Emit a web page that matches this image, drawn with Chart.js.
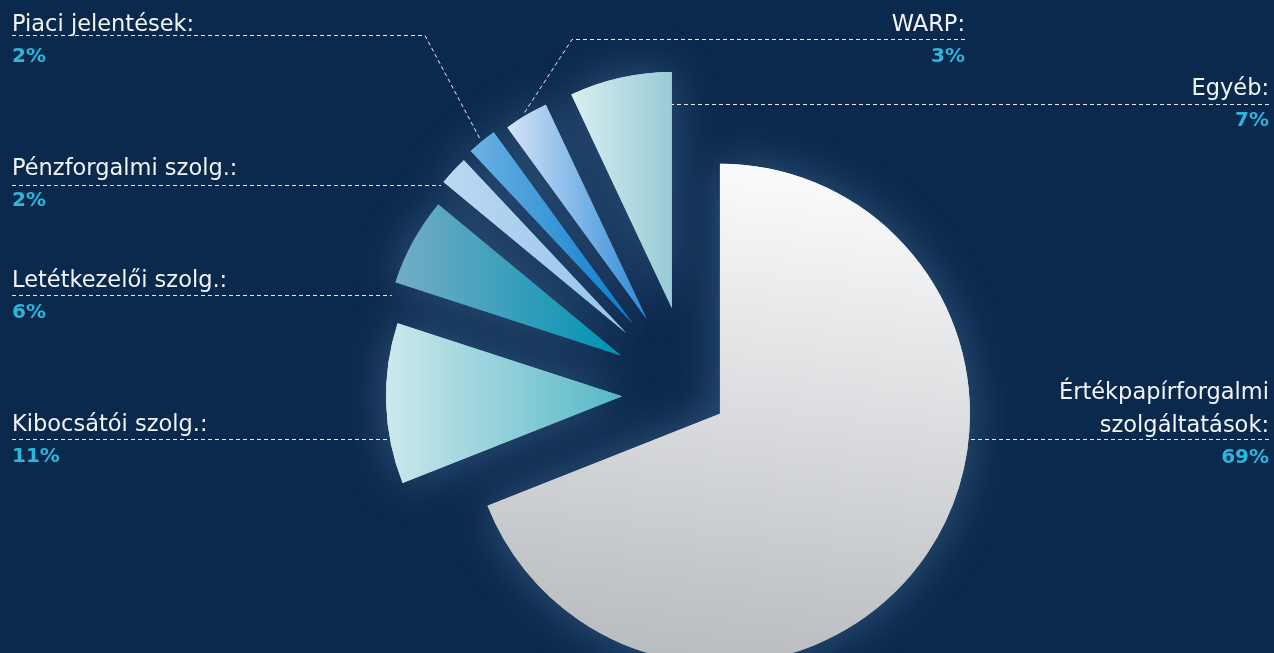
<!DOCTYPE html>
<html lang="hu">
<head>
<meta charset="utf-8">
<title>Árbevétel megoszlása</title>
<script src="https://cdn.jsdelivr.net/npm/chart.js@4.4.1/dist/chart.umd.min.js"></script>
<style>
  html, body { margin: 0; padding: 0; background: #0b294c; overflow: hidden; }
  #wrap { position: relative; width: 1274px; height: 653px; }
</style>
</head>
<body>
<div id="wrap"><canvas id="pie" width="1274" height="653"></canvas></div>
<script>
// data (clockwise from 12 o'clock)
const categories = ['Értékpapírforgalmi szolgáltatások', 'Kibocsátói szolg.', 'Letétkezelői szolg.', 'Pénzforgalmi szolg.', 'Piaci jelentések', 'WARP', 'Egyéb'];
const shares = [69, 11, 6, 2, 2, 3, 7];
const labelLines = [['Értékpapírforgalmi', 'szolgáltatások:'], ['Kibocsátói szolg.:'], ['Letétkezelői szolg.:'], ['Pénzforgalmi szolg.:'], ['Piaci jelentések:'], ['WARP:'], ['Egyéb:']];

// look of the slices
const explode = [35, 69, 80, 89, 91, 87, 88];
const sliceRadius = [250, 236, 237, 237, 237, 237, 236];
const sliceColors = [
    ['#f8f9fa', '#b6b9bd'],
    ['#cce8ec', '#56b8c6'],
    ['#74acc6', '#0093b2'],
    ['#bcd8f2', '#95c4ec'],
    ['#6cb2e4', '#0a7ccc'],
    ['#d4e4f8', '#2d8ad6'],
    ['#d8eef1', '#98ccd6']
];

// callouts: side of the label, text x, text baseline, dashed line y, where the line meets the slice
const callouts = [
    { side: 'right', x: 1269, base: 432, lineY: 439, hit: 'arc' },
    { side: 'left', x: 12, base: 431, lineY: 439, hit: 'arc' },
    { side: 'left', x: 12, base: 287, lineY: 295, hit: 'arc' },
    { side: 'left', x: 12, base: 175, lineY: 185, hit: 'arc' },
    { side: 'left', x: 12, base: 31, lineY: 35, hit: 'mid', kinkX: 425 },
    { side: 'right', x: 965, base: 31, lineY: 39, hit: 'mid', kinkX: 572 },
    { side: 'right', x: 1269, base: 95, lineY: 104, hit: 'end' }
];

const labelFont = '22.5px "DejaVu Sans"';
const pctFont = 'bold 20px "DejaVu Sans"';

function sliceBox(arc) {
    let x0 = arc.x, x1 = arc.x, y0 = arc.y, y1 = arc.y;
    const steps = 24;
    for (let k = 0; k <= steps; k++) {
        const a = arc.startAngle + (arc.endAngle - arc.startAngle) * k / steps;
        const px = arc.x + Math.cos(a) * arc.outerRadius;
        const py = arc.y + Math.sin(a) * arc.outerRadius;
        x0 = Math.min(x0, px); x1 = Math.max(x1, px);
        y0 = Math.min(y0, py); y1 = Math.max(y1, py);
    }
    return { x0, x1, y0, y1 };
}

function anchorPoint(arc, c) {
    const r = arc.outerRadius;
    if (c.hit === 'mid') {
        const mid = (arc.startAngle + arc.endAngle) / 2;
        return { x: arc.x + Math.cos(mid) * (r + 3), y: arc.y + Math.sin(mid) * (r + 3) };
    }
    if (c.hit === 'end') {
        const a = arc.endAngle;
        return { x: arc.x + Math.cos(a) / Math.sin(a) * (c.lineY - arc.y), y: c.lineY };
    }
    const dy = c.lineY - arc.y;
    const dx = Math.sqrt(Math.max(r * r - dy * dy, 0));
    return { x: c.side === 'left' ? arc.x - dx : arc.x + dx, y: c.lineY };
}

const slicePlugin = {
    id: 'slicePlugin',
    afterDatasetsUpdate(chart) {
        chart.getDatasetMeta(0).data.forEach((arc, i) => {
            const mid = (arc.startAngle + arc.endAngle) / 2;
            arc.x += Math.cos(mid) * explode[i];
            arc.y += Math.sin(mid) * explode[i];
            arc.outerRadius = sliceRadius[i];
        });
    },
    beforeDatasetsDraw(chart) {
        const ctx = chart.ctx;
        const arcs = chart.getDatasetMeta(0).data;
        arcs.forEach((arc, i) => {
            const b = sliceBox(arc);
            const g = i === 0
                ? ctx.createLinearGradient(b.x0 + 120, b.y0, b.x0 + 60, b.y1)
                : ctx.createLinearGradient(b.x0, 0, b.x1, 0);
            g.addColorStop(0, sliceColors[i][0]);
            g.addColorStop(1, sliceColors[i][1]);
            arc.options = Object.assign({}, arc.options, { backgroundColor: g, borderWidth: 0 });
        });
        // soft light halo behind the slices
        ctx.save();
        ctx.shadowColor = 'rgba(120, 165, 215, 0.36)';
        ctx.shadowBlur = 45;
        arcs.forEach(arc => arc.draw(ctx));
        ctx.restore();
    },
    afterDraw(chart) {
        const ctx = chart.ctx;
        const arcs = chart.getDatasetMeta(0).data;
        ctx.save();
        arcs.forEach((arc, i) => {
            const c = callouts[i];
            const p = anchorPoint(arc, c);
            const y = Math.round(c.lineY) + 0.5;

            ctx.strokeStyle = 'rgba(255,255,255,0.9)';
            ctx.lineWidth = 1;
            ctx.setLineDash([4, 3]);
            ctx.beginPath();
            ctx.moveTo(c.x, y);
            if (c.kinkX !== undefined) {
                ctx.lineTo(c.kinkX, y);
                ctx.lineTo(p.x, p.y);
            } else {
                ctx.lineTo(p.x, y);
            }
            ctx.stroke();
            ctx.setLineDash([]);

            ctx.textAlign = c.side === 'left' ? 'left' : 'right';
            ctx.textBaseline = 'alphabetic';
            ctx.fillStyle = '#f2f5f8';
            ctx.font = labelFont;
            const lines = labelLines[i];
            lines.forEach((t, k) => {
                ctx.fillText(t, c.x, c.base - (lines.length - 1 - k) * 33);
            });
            ctx.fillStyle = '#2cb6dc';
            ctx.font = pctFont;
            ctx.fillText(shares[i] + '%', c.x, c.base + 31);
        });
        ctx.restore();
    }
};

new Chart(document.getElementById('pie'), {
    type: 'pie',
    data: {
        labels: categories,
        datasets: [{
            data: shares,
            backgroundColor: sliceColors.map(s => s[1]),
            borderWidth: 0
        }]
    },
    options: {
        responsive: false,
        animation: false,
        events: [],
        radius: 236,
        layout: { padding: { left: 108, top: 135, right: 0, bottom: 0 } },
        plugins: { legend: { display: false }, tooltip: { enabled: false } }
    },
    plugins: [slicePlugin]
});
</script>
</body>
</html>
